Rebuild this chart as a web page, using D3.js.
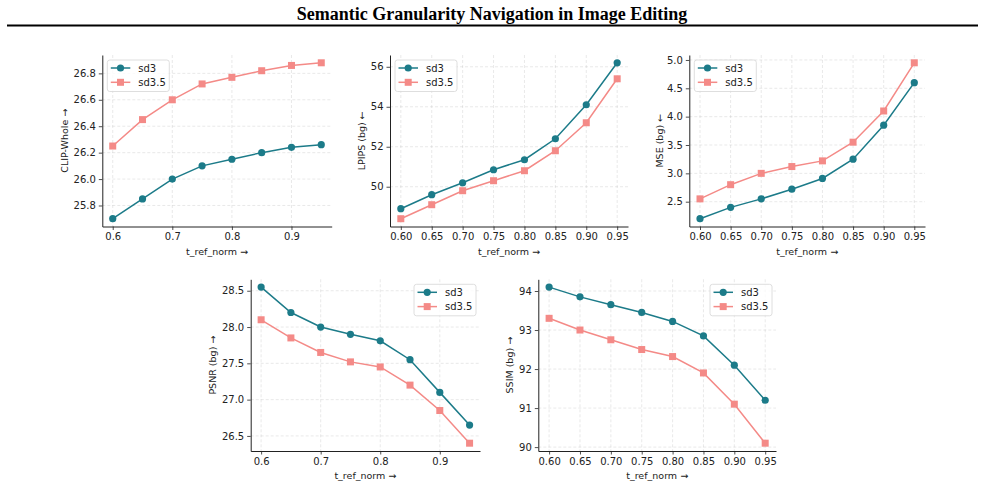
<!DOCTYPE html>
<html>
<head>
<meta charset="utf-8">
<script src="https://cdn.jsdelivr.net/npm/d3@7"></script>
<style>
  body { margin: 0; background: #fff; }
  svg { display: block; }
</style>
</head>
<body>
<div id="chart"></div>
<script>
// data
const tRef = [0.60, 0.65, 0.70, 0.75, 0.80, 0.85, 0.90, 0.95];
const seriesNames = ["sd3", "sd3.5"];

const clipSd3   = [25.70, 25.85, 26.00, 26.10, 26.15, 26.20, 26.24, 26.26];
const clipSd35  = [26.25, 26.45, 26.60, 26.72, 26.77, 26.82, 26.86, 26.88];
const lpipsSd3  = [48.9, 49.6, 50.2, 50.85, 51.35, 52.4, 54.1, 56.2];
const lpipsSd35 = [48.4, 49.1, 49.8, 50.3, 50.8, 51.8, 53.2, 55.4];
const mseSd3    = [2.20, 2.40, 2.55, 2.72, 2.91, 3.25, 3.85, 4.60];
const mseSd35   = [2.55, 2.80, 3.00, 3.12, 3.22, 3.55, 4.10, 4.95];
const psnrSd3   = [28.55, 28.20, 28.00, 27.90, 27.81, 27.55, 27.10, 26.65];
const psnrSd35  = [28.10, 27.85, 27.65, 27.52, 27.45, 27.20, 26.85, 26.40];
const ssimSd3   = [94.1, 93.85, 93.65, 93.45, 93.22, 92.85, 92.1, 91.2];
const ssimSd35  = [93.3, 93.0, 92.75, 92.5, 92.32, 91.9, 91.1, 90.1];

const xTicksCoarse = [0.6, 0.7, 0.8, 0.9];
const xTicksFine = [0.60, 0.65, 0.70, 0.75, 0.80, 0.85, 0.90, 0.95];
const clipTicks = [25.8, 26.0, 26.2, 26.4, 26.6, 26.8];
const lpipsTicks = [50, 52, 54, 56];
const mseTicks = [2.5, 3.0, 3.5, 4.0, 4.5, 5.0];
const psnrTicks = [26.5, 27.0, 27.5, 28.0, 28.5];
const ssimTicks = [90, 91, 92, 93, 94];

const colors = {"sd3": "#1c7b89", "sd3.5": "#f48a87"};

const width = 985, height = 487;
const svg = d3.select("#chart").append("svg")
  .attr("width", width)
  .attr("height", height)
  .attr("font-family", "DejaVu Sans, sans-serif");

// title + rule
svg.append("text")
  .attr("x", 492)
  .attr("y", 20)
  .attr("text-anchor", "middle")
  .attr("font-family", "Liberation Serif, serif")
  .attr("font-weight", "bold")
  .attr("font-size", 18)
  .attr("fill", "#000")
  .text("Semantic Granularity Navigation in Image Editing");

svg.append("line")
  .attr("x1", 7).attr("x2", 978)
  .attr("y1", 25.5).attr("y2", 25.5)
  .attr("stroke", "#000")
  .attr("stroke-width", 2);

const panels = [
  {box: [102.3, 55, 331.7, 226.5], sd3: clipSd3, sd35: clipSd35, yTicks: clipTicks, yFmt: ".1f",
   xTicks: xTicksCoarse, xFmt: ".1f", yLabel: "CLIP-Whole →", yLabelX: 65, legend: "left"},
  {box: [390, 55, 628, 226.5], sd3: lpipsSd3, sd35: lpipsSd35, yTicks: lpipsTicks, yFmt: "d",
   xTicks: xTicksFine, xFmt: ".2f", yLabel: "LPIPS (bg) ←", yLabelX: 362, legend: "left"},
  {box: [689.3, 55, 925, 226.5], sd3: mseSd3, sd35: mseSd35, yTicks: mseTicks, yFmt: ".1f",
   xTicks: xTicksFine, xFmt: ".2f", yLabel: "MSE (bg) ←", yLabelX: 660, legend: "left"},
  {box: [250.7, 279.3, 480, 451], sd3: psnrSd3, sd35: psnrSd35, yTicks: psnrTicks, yFmt: ".1f",
   xTicks: xTicksCoarse, xFmt: ".1f", yLabel: "PSNR (bg) →", yLabelX: 213, legend: "right"},
  {box: [538.3, 279.3, 776, 451], sd3: ssimSd3, sd35: ssimSd35, yTicks: ssimTicks, yFmt: "d",
   xTicks: xTicksFine, xFmt: ".2f", yLabel: "SSIM (bg) →", yLabelX: 510, legend: "right"}
];

function padded(ext) {
  const m = (ext[1] - ext[0]) * 0.05;
  return [ext[0] - m, ext[1] + m];
}

panels.forEach(p => {
  const [x0, y0, x1, y1] = p.box;
  const x = d3.scaleLinear().domain(padded(d3.extent(tRef))).range([x0, x1]);
  const y = d3.scaleLinear().domain(padded(d3.extent(p.sd3.concat(p.sd35)))).range([y1, y0]);
  const g = svg.append("g");

  // grid
  g.append("g").selectAll("line").data(p.xTicks).join("line")
    .attr("x1", d => x(d)).attr("x2", d => x(d))
    .attr("y1", y0).attr("y2", y1)
    .attr("stroke", "#b0b0b0").attr("stroke-opacity", 0.35)
    .attr("stroke-width", 0.8).attr("stroke-dasharray", "3,2");
  g.append("g").selectAll("line").data(p.yTicks).join("line")
    .attr("x1", x0).attr("x2", x1)
    .attr("y1", d => y(d)).attr("y2", d => y(d))
    .attr("stroke", "#b0b0b0").attr("stroke-opacity", 0.35)
    .attr("stroke-width", 0.8).attr("stroke-dasharray", "3,2");

  // axes
  const xAxis = g.append("g")
    .attr("transform", `translate(0,${y1})`)
    .call(d3.axisBottom(x).tickValues(p.xTicks).tickFormat(d3.format(p.xFmt)).tickSizeInner(3.5).tickSizeOuter(0).tickPadding(3));
  const yAxis = g.append("g")
    .attr("transform", `translate(${x0},0)`)
    .call(d3.axisLeft(y).tickValues(p.yTicks).tickFormat(d3.format(p.yFmt)).tickSizeInner(3.5).tickSizeOuter(0).tickPadding(3));
  [xAxis, yAxis].forEach(a => {
    a.select(".domain").attr("stroke", "#222").attr("stroke-width", 1);
    a.selectAll(".tick line").attr("stroke", "#222").attr("stroke-width", 0.8);
    a.selectAll(".tick text").attr("font-size", 10).attr("fill", "#222")
      .attr("font-family", "DejaVu Sans, sans-serif");
  });

  // labels
  g.append("text")
    .attr("x", (x0 + x1) / 2).attr("y", y1 + 28)
    .attr("text-anchor", "middle").attr("font-size", 9.5).attr("fill", "#222")
    .text("t_ref_norm →");
  g.append("text")
    .attr("transform", `translate(${p.yLabelX},${(y0 + y1) / 2}) rotate(-90)`)
    .attr("text-anchor", "middle").attr("dominant-baseline", "middle")
    .attr("font-size", 9.5).attr("fill", "#222")
    .text(p.yLabel);

  // series
  const series = [{name: "sd3", vals: p.sd3}, {name: "sd3.5", vals: p.sd35}];
  const line = d3.line().x((d, i) => x(tRef[i])).y(d => y(d));
  series.forEach(s => {
    g.append("path").datum(s.vals)
      .attr("d", line).attr("fill", "none")
      .attr("stroke", colors[s.name]).attr("stroke-width", 1.5);
    if (s.name === "sd3") {
      g.append("g").selectAll("circle").data(s.vals).join("circle")
        .attr("cx", (d, i) => x(tRef[i])).attr("cy", d => y(d)).attr("r", 3.6)
        .attr("fill", colors[s.name]);
    } else {
      g.append("g").selectAll("rect").data(s.vals).join("rect")
        .attr("x", (d, i) => x(tRef[i]) - 3.5).attr("y", d => y(d) - 3.5)
        .attr("width", 7).attr("height", 7)
        .attr("fill", colors[s.name]);
    }
  });

  // legend
  const lw = 62, lh = 31.5;
  const lx = p.legend === "left" ? x0 + 5 : x1 - 4 - lw;
  const ly = y0 + 5;
  const lg = g.append("g").attr("transform", `translate(${lx},${ly})`);
  lg.append("rect").attr("width", lw).attr("height", lh).attr("rx", 2.5)
    .attr("fill", "#fff").attr("fill-opacity", 0.8)
    .attr("stroke", "#d6d6d6").attr("stroke-width", 0.8);
  seriesNames.forEach((n, i) => {
    const cy = 8 + i * 14.3;
    lg.append("line").attr("x1", 3.5).attr("x2", 23).attr("y1", cy).attr("y2", cy)
      .attr("stroke", colors[n]).attr("stroke-width", 1.5);
    if (n === "sd3") {
      lg.append("circle").attr("cx", 13.2).attr("cy", cy).attr("r", 3.6).attr("fill", colors[n]);
    } else {
      lg.append("rect").attr("x", 13.2 - 3.5).attr("y", cy - 3.5).attr("width", 7).attr("height", 7).attr("fill", colors[n]);
    }
    lg.append("text").attr("x", 31).attr("y", cy).attr("dy", "0.35em")
      .attr("font-size", 10).attr("fill", "#222").text(n);
  });
});
</script>
</body>
</html>
